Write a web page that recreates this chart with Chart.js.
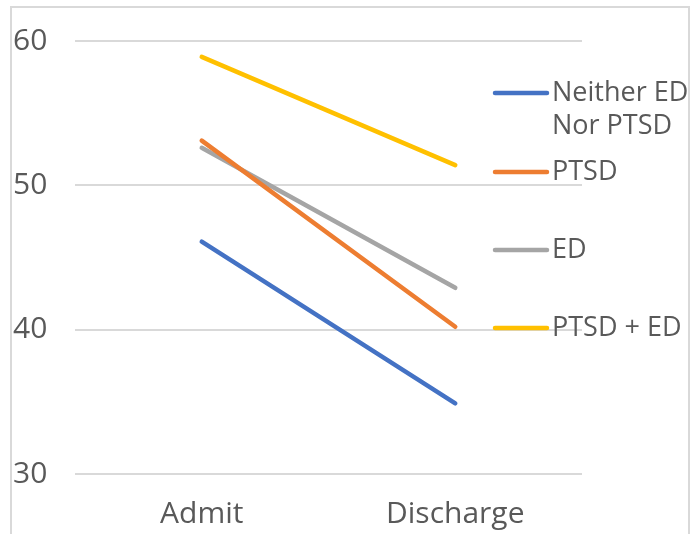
<!DOCTYPE html>
<html>
<head>
<meta charset="utf-8">
<script src="https://cdn.jsdelivr.net/npm/chart.js@4/dist/chart.umd.min.js"></script>
<style>
  html, body { margin: 0; padding: 0; background: #fff; }
  #wrap { width: 694px; height: 534px; }
</style>
</head>
<body>
<div id="wrap"><canvas id="chart" width="694" height="534"></canvas></div>
<script>
// chart data
const categories = ['Admit', 'Discharge'];
const neitherValues = [46.1, 34.9];
const ptsdValues = [53.1, 40.2];
const edValues = [52.6, 42.9];
const ptsdEdValues = [58.9, 51.4];
const yTicks = [30, 40, 50, 60];

const seriesNames = [['Neither ED', 'Nor PTSD'], ['PTSD'], ['ED'], ['PTSD + ED']];
const seriesColors = ['#4472C4', '#ED7D31', '#A5A5A5', '#FFC000'];

const textColor = '#595959';
const gridColor = '#D9D9D9';
const fontFamily = '"Open Sans", "DejaVu Sans", sans-serif';

// frame around the chart (bottom runs off the picture)
const framePlugin = {
    id: 'frame',
    beforeDraw(chart) {
        const ctx = chart.ctx;
        ctx.save();
        ctx.strokeStyle = gridColor;
        ctx.lineWidth = 2;
        ctx.strokeRect(11, 7, 678, 540);
        ctx.restore();
    }
};

// legend on the right, drawn by hand so the wrapped label fits
const sideLegend = {
    id: 'sideLegend',
    afterDraw(chart) {
        const ctx = chart.ctx;
        const rowY = [93, 172, 250, 328]; // centre of each legend line
        ctx.save();
        ctx.font = '27px ' + fontFamily;
        ctx.fillStyle = textColor;
        ctx.textBaseline = 'middle';
        ctx.lineCap = 'round';
        chart.data.datasets.forEach((ds, i) => {
            ctx.strokeStyle = ds.borderColor;
            ctx.lineWidth = 4.5;
            ctx.beginPath();
            ctx.moveTo(495, rowY[i]);
            ctx.lineTo(547, rowY[i]);
            ctx.stroke();
            seriesNames[i].forEach((line, j) => {
                ctx.fillText(line, 552, rowY[i] + j * 33);
            });
        });
        ctx.restore();
    }
};

const makeSet = (i, values) => ({
    label: seriesNames[i].join(' '),
    data: values,
    borderColor: seriesColors[i],
    backgroundColor: seriesColors[i],
    borderWidth: 4.5,
    borderCapStyle: 'round',
    pointRadius: 0,
    tension: 0,
    fill: false
});

new Chart(document.getElementById('chart'), {
    type: 'line',
    data: {
        labels: categories,
        datasets: [
            makeSet(0, neitherValues),
            makeSet(1, ptsdValues),
            makeSet(2, edValues),
            makeSet(3, ptsdEdValues)
        ]
    },
    options: {
        responsive: false,
        animation: false,
        layout: { padding: { left: 13, right: 112, top: 41, bottom: 0 } },
        plugins: { legend: { display: false }, tooltip: { enabled: false } },
        scales: {
            x: {
                offset: true,
                grid: { display: false },
                border: { display: false },
                ticks: { color: textColor, font: { family: fontFamily, size: 30 }, padding: 14 },
                afterFit: s => { s.height = 60; }
            },
            y: {
                min: 30,
                max: 60,
                afterBuildTicks: s => { s.ticks = yTicks.map(v => ({ value: v })); },
                grid: { color: gridColor, lineWidth: 2, drawTicks: false },
                border: { display: false },
                ticks: { color: textColor, font: { family: fontFamily, size: 30 }, crossAlign: 'far', padding: 0 },
                afterFit: s => { s.width = 62; }
            }
        }
    },
    plugins: [framePlugin, sideLegend]
});
</script>
</body>
</html>
